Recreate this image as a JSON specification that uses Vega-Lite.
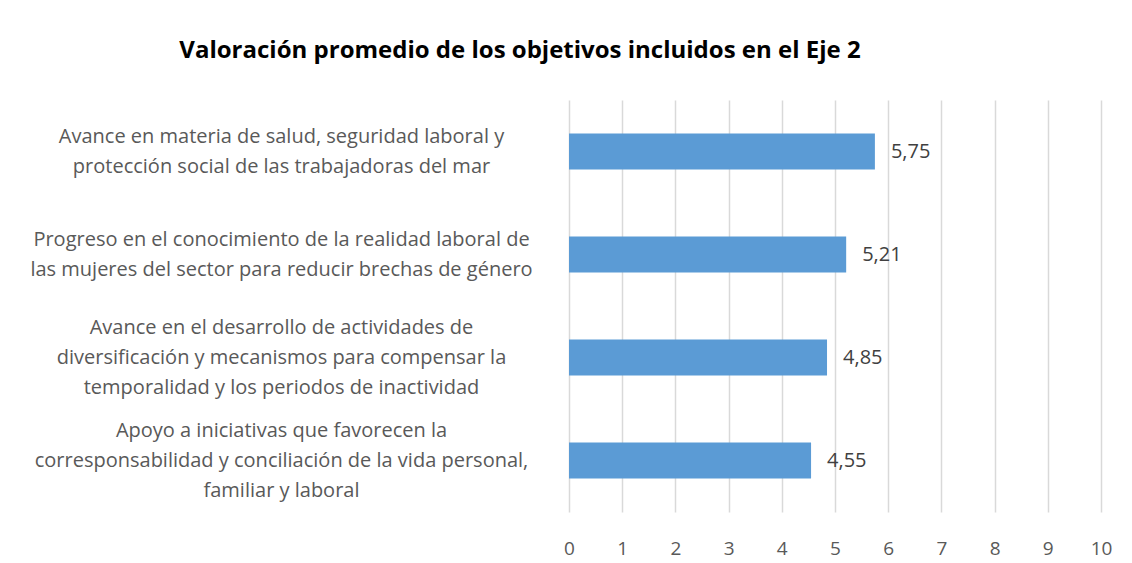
{
  "$schema": "https://vega.github.io/schema/vega-lite/v6.json",
  "autosize": {"type": "none"},
  "width": 532,
  "height": 412,
  "padding": {"left": 569, "top": 100, "right": 31, "bottom": 51},
  "background": "white",
  "config": {
    "locale": {"number": {"decimal": ",", "thousands": ".", "grouping": [3], "currency": ["", " €"]}},
    "view": {"stroke": null},
    "font": "Open Sans"
  },
  "title": {
    "text": "Valoración promedio de los objetivos incluidos en el Eje 2",
    "fontSize": 24,
    "fontWeight": "bold",
    "color": "#000000",
    "font": "Open Sans",
    "anchor": "middle",
    "frame": "group",
    "dx": -315,
    "offset": 37
  },
  "data": {
    "values": [
      {"objetivo": "Avance en materia de salud, seguridad laboral y|protección social de las trabajadoras del mar", "valor": 5.75},
      {"objetivo": "Progreso en el conocimiento de la realidad laboral de|las mujeres del sector para reducir brechas de género", "valor": 5.21},
      {"objetivo": "Avance en el desarrollo de actividades de|diversificación y mecanismos para compensar la|temporalidad y los periodos de inactividad", "valor": 4.85},
      {"objetivo": "Apoyo a iniciativas que favorecen la|corresponsabilidad y conciliación de la vida personal,|familiar y laboral", "valor": 4.55}
    ]
  },
  "encoding": {
    "y": {
      "field": "objetivo",
      "type": "nominal",
      "sort": null,
      "scale": {"paddingInner": 0.65, "paddingOuter": 0.325},
      "axis": {
        "title": null,
        "domain": false,
        "ticks": false,
        "labelExpr": "split(datum.value, '|')",
        "labelAlign": "center",
        "labelBaseline": "middle",
        "labelOffset": {"expr": "-(length(split(datum.value, '|')) - 1) * 15"},
        "labelPadding": 288,
        "labelFontSize": 20,
        "labelLineHeight": 30,
        "labelColor": "#595959",
        "labelFont": "Open Sans",
        "labelLimit": 0
      }
    },
    "x": {
      "field": "valor",
      "type": "quantitative",
      "scale": {"domain": [0, 10], "nice": false},
      "axis": {
        "title": null,
        "values": [0, 1, 2, 3, 4, 5, 6, 7, 8, 9, 10],
        "format": "d",
        "domain": false,
        "ticks": false,
        "grid": true,
        "gridColor": "#d9d9d9",
        "gridWidth": 1.5,
        "labelFlush": false,
        "labelPadding": 36,
        "labelFontSize": 19,
        "labelColor": "#595959",
        "labelFont": "Open Sans",
        "labelBaseline": "middle"
      }
    }
  },
  "layer": [
    {"mark": {"type": "bar", "color": "#5b9bd5"}},
    {
      "mark": {"type": "text", "align": "left", "baseline": "middle", "dx": 16, "fontSize": 20, "color": "#404040", "font": "Open Sans"},
      "encoding": {"text": {"field": "valor", "type": "quantitative", "format": ".2f"}}
    }
  ]
}
